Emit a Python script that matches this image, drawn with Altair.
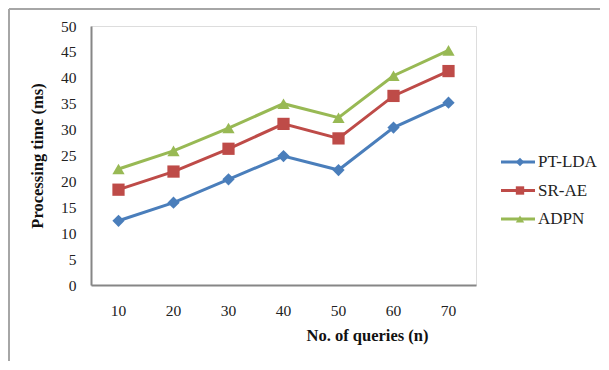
import altair as alt
import pandas as pd

queries = [10, 20, 30, 40, 50, 60, 70]
series_names = ["PT-LDA", "SR-AE", "ADPN"]
pt_lda = [12.4, 15.9, 20.4, 24.9, 22.2, 30.4, 35.2]
sr_ae = [18.4, 21.9, 26.3, 31.1, 28.3, 36.5, 41.3]
adpn = [22.4, 25.9, 30.3, 35.0, 32.3, 40.4, 45.3]
colors = ["#4A7EBB", "#BE4B48", "#98B954"]
shapes = ["diamond", "square", "triangle-up"]

rows = []
for name, vals in zip(series_names, [pt_lda, sr_ae, adpn]):
    for q, v in zip(queries, vals):
        rows.append({"queries": q, "series": name, "value": v})
df = pd.DataFrame(rows)
legend_df = pd.DataFrame({"series": series_names})

FONT = "Liberation Serif"
W, H = 385, 259

color_scale = alt.Scale(domain=series_names, range=colors)
shape_scale = alt.Scale(domain=series_names, range=shapes)

x_enc = alt.X(
    "queries:O",
    scale=alt.Scale(type="band", paddingInner=0, paddingOuter=0),
    axis=alt.Axis(
        title="No. of queries (n)", labelAngle=0, ticks=False, grid=False,
        domainColor="#868686", domainWidth=2, labelPadding=18, labelOverlap=False,
        labelFont=FONT, labelFontSize=15.5, labelColor="#222222",
        titleFont=FONT, titleFontSize=16.5, titleFontWeight="bold", titleColor="#111111",
        titleX=276, titleY=50, titleAnchor="middle", titleBaseline="middle",
    ),
)
y_enc = alt.Y(
    "value:Q",
    scale=alt.Scale(domain=[0, 50], nice=False),
    axis=alt.Axis(
        title="Processing time (ms)", values=list(range(0, 51, 5)), ticks=False, grid=False,
        domainColor="#868686", domainWidth=2, labelPadding=15, labelOverlap=False,
        labelFont=FONT, labelFontSize=15.5, labelColor="#222222",
        titleFont=FONT, titleFontSize=16.5, titleFontWeight="bold", titleColor="#111111",
        titleX=-54, titleY=129.5, titleAngle=270, titleAlign="center", titleBaseline="middle",
    ),
)

base = alt.Chart(df)
lines = base.mark_line(strokeWidth=3).encode(
    x=x_enc, y=y_enc,
    color=alt.Color("series:N", scale=color_scale, legend=None),
    detail="series:N",
)
points = base.mark_point(filled=True, opacity=1, size=150).encode(
    x=x_enc, y=y_enc,
    color=alt.Color("series:N", scale=color_scale, legend=None),
    shape=alt.Shape("series:N", scale=shape_scale, legend=None),
)
main = alt.layer(lines, points)

leg_y = alt.Y("series:N", scale=alt.Scale(type="point", domain=series_names, range=[136, 193], padding=0), axis=None)

leg_base = alt.Chart(legend_df)
leg_line = leg_base.mark_rule(strokeWidth=3).encode(
    x=alt.value(410), x2=alt.value(444), y=leg_y,
    color=alt.Color("series:N", scale=color_scale, legend=None),
)
leg_pt = leg_base.mark_point(filled=True, opacity=1, size=70).encode(
    x=alt.value(429), y=leg_y,
    color=alt.Color("series:N", scale=color_scale, legend=None),
    shape=alt.Shape("series:N", scale=shape_scale, legend=None),
)
leg_text = leg_base.mark_text(align="left", baseline="middle", font=FONT, fontSize=17, color="#222222").encode(
    x=alt.value(447), y=leg_y, text="series:N",
)
legend = alt.layer(leg_line, leg_pt, leg_text)

frame_df = pd.DataFrame({"k": [0]})
frame_left = alt.Chart(frame_df).mark_rule(color="#A6A6A6", strokeWidth=2).encode(
    x=alt.value(-82), y=alt.value(-17), y2=alt.value(400),
)
frame_top = alt.Chart(frame_df).mark_rule(color="#A6A6A6", strokeWidth=2).encode(
    x=alt.value(-82), x2=alt.value(600), y=alt.value(-17),
)

chart = alt.layer(
    frame_left, frame_top, main, legend
).resolve_scale(y="independent").properties(
    width=W, height=H,
    autosize=alt.AutoSizeParams(type="none"),
    padding={"left": 83, "top": 18, "right": 124, "bottom": 76},
).configure_view(
    stroke="#8EB4E3", strokeWidth=2,
).configure(background="white")

chart.save("out.html", embed_options={"renderer": "svg", "actions": False})
